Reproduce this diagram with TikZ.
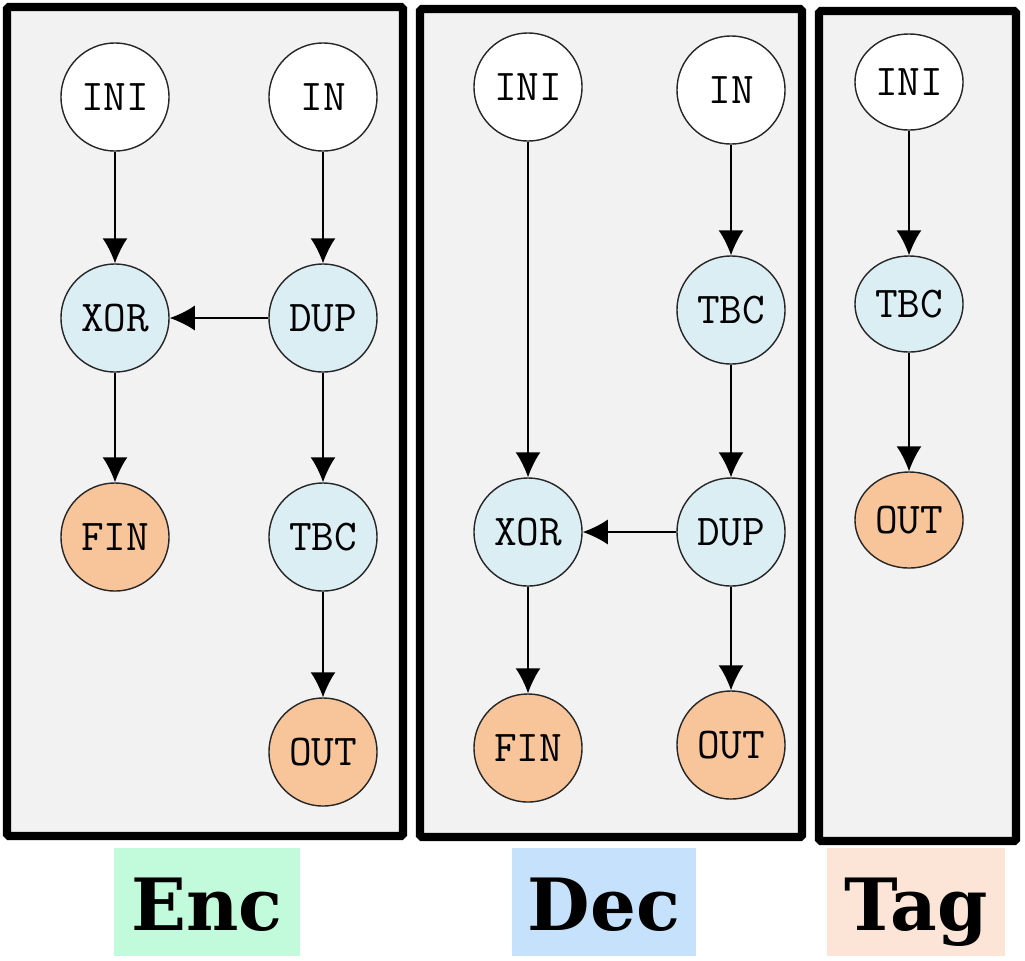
\documentclass[tikz,border=0pt]{standalone}
\usepackage{fontspec}
\newfontfamily\labelfont{DejaVu Serif}
\usetikzlibrary{arrows.meta,shapes.geometric}
\definecolor{panelgray}{HTML}{F2F2F2}
\definecolor{opblue}{HTML}{DBEEF4}
\definecolor{outorange}{HTML}{F8C49A}
\definecolor{encgreen}{HTML}{C2FADC}
\definecolor{decblue}{HTML}{C5E1FC}
\definecolor{tagpeach}{HTML}{FCE4D6}

\begin{document}
\begin{tikzpicture}[x=0.01cm, y=-0.01cm,
  op/.style={circle, draw=black!85, line width=0.4pt, minimum size=10.8mm, inner sep=0pt, font=\fontsize{12.5}{13}\ttfamily},
  tagop/.style={ellipse, draw=black!85, line width=0.4pt, minimum width=10.8mm, minimum height=9.6mm, inner sep=0pt, font=\fontsize{12.5}{13}\ttfamily},
  panel/.style={draw=black, line width=2.3pt, fill=panelgray, rounded corners=0.5pt},
  lbl/.style={anchor=base, inner xsep=0pt, inner ysep=0pt, text height=23.2pt, text depth=7.4pt, font=\fontsize{20.5}{22}\labelfont\bfseries},
  flow/.style={-{Latex[length=2.5mm,width=2.5mm]}, line width=0.45pt}]
\useasboundingbox (0,0) rectangle (1025,960);
\def\encl{115}
\def\encr{323}
\def\decl{528}
\def\decr{731}
\def\tagx{909}

% panels
\draw [panel] (7,7) rectangle (403,836);
\draw [panel] (420,9) rectangle (802,837);
\draw [panel] (819,11) rectangle (1016,841);

% Enc
\node[op, fill=white] (eini) at (\encl, 97) {INI};
\node[op, fill=white] (ein) at (\encr, 97) {IN};
\node[op, fill=opblue] (exor) at (\encl, 318) {XOR};
\node[op, fill=opblue] (edup) at (\encr, 318) {DUP};
\node[op, fill=outorange] (efin) at (\encl, 537) {FIN};
\node[op, fill=opblue] (etbc) at (\encr, 537) {TBC};
\node[op, fill=outorange] (eout) at (\encr, 752) {OUT};

% Dec
\node[op, fill=white] (dini) at (\decl, 87) {INI};
\node[op, fill=white] (din) at (\decr, 90) {IN};
\node[op, fill=opblue] (dtbc) at (\decr, 310) {TBC};
\node[op, fill=opblue] (dxor) at (\decl, 532) {XOR};
\node[op, fill=opblue] (ddup) at (\decr, 532) {DUP};
\node[op, fill=outorange] (dfin) at (\decl, 748) {FIN};
\node[op, fill=outorange] (dout) at (\decr, 745) {OUT};

% Tag
\node[tagop, fill=white] (tini) at (\tagx, 82) {INI};
\node[tagop, fill=opblue] (ttbc) at (\tagx, 304) {TBC};
\node[tagop, fill=outorange] (tout) at (\tagx, 520) {OUT};

% edges
\path[flow] (eini) edge (exor);
\path[flow] (ein) edge (edup);
\path[flow] (edup) edge (exor);
\path[flow] (exor) edge (efin);
\path[flow] (edup) edge (etbc);
\path[flow] (etbc) edge (eout);
\path[flow] (dini) edge (dxor);
\path[flow] (din) edge (dtbc);
\path[flow] (dtbc) edge (ddup);
\path[flow] (ddup) edge (dxor);
\path[flow] (dxor) edge (dfin);
\path[flow] (ddup) edge (dout);
\path[flow] (tini) edge (ttbc);
\path[flow] (ttbc) edge (tout);

% labels
\node[lbl, fill=encgreen, minimum width=18.6mm] (enc) at (207, 930) {Enc};
\node[lbl, fill=decblue, minimum width=18.4mm] (dec) at (604, 930) {Dec};
\node[lbl, fill=tagpeach, minimum width=17.8mm] (tag) at (916, 930) {Tag};
\end{tikzpicture}
\end{document}
